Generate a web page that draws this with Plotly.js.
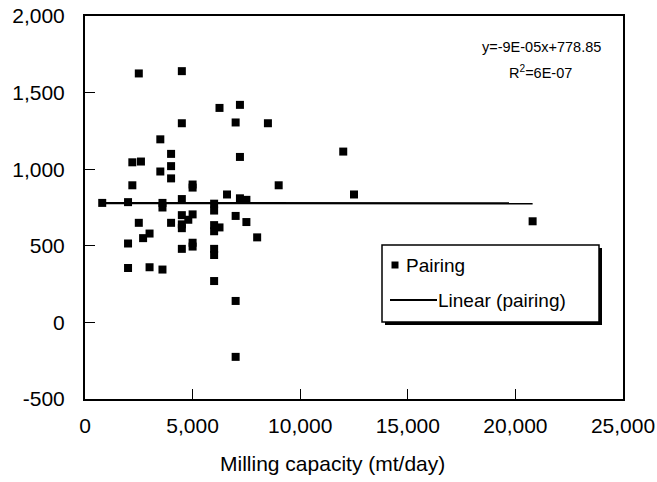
<!DOCTYPE html>
<html>
<head>
<meta charset="utf-8">
<script src="https://cdn.plot.ly/plotly-3.0.1.min.js"></script>
<style>html,body{margin:0;padding:0;background:#fff;}#chart{width:657px;height:482px;}</style>
</head>
<body>
<div id="chart"></div>
<script>
// Milling capacity (mt/day)
const capacity = [800, 2000, 2000, 2000, 2200, 2200, 2500, 2500, 2600, 2700,
  3000, 3000, 3500, 3500, 3600, 3600, 3600, 4000, 4000, 4000,
  4000, 4500, 4500, 4500, 4500, 4500, 4500, 4500, 4800, 5000,
  5000, 5000, 5000, 5000, 6000, 6000, 6000, 6000, 6000, 6000,
  6000, 6250, 6250, 6600, 7000, 7000, 7000, 7000, 7200, 7200,
  7200, 7500, 7500, 8000, 8500, 9000, 12000, 12500, 20800];
// Pairing values
const pairing = [780, 785, 515, 355, 1045, 895, 1625, 650, 1050, 550,
  580, 360, 1195, 985, 780, 750, 345, 1100, 1020, 940,
  650, 1640, 1300, 805, 700, 640, 615, 480, 670, 900,
  880, 705, 520, 495, 775, 730, 635, 595, 480, 440,
  270, 1400, 620, 835, 1305, 695, 140, -225, 1420, 1080,
  810, 800, 655, 555, 1300, 895, 1115, 835, 660];
// Linear trend (from the displayed equation)
const trendSlope = -9e-5;
const trendIntercept = 778.85;
const trendX = [Math.min(...capacity), Math.max(...capacity)];
const trendY = trendX.map(x => trendSlope * x + trendIntercept);

const xTickVals = [0, 5000, 10000, 15000, 20000, 25000];
const xTickText = ["0", "5,000", "10,000", "15,000", "20,000", "25,000"];
const yTickVals = [-500, 0, 500, 1000, 1500, 2000];
const yTickText = ["-500", "0", "500", "1,000", "1,500", "2,000"];

const eqText = "y=-9E-05x+778.85";
const r2Text = "R<sup>2</sup>=6E-07";
const legendNames = ["Pairing", "Linear (pairing)"];
const xTitle = "Milling capacity (mt/day)";

const W = 657, H = 482;
const L = 85, R = 623, T = 16, B = 399;
const px = v => (v - L) / (R - L);
const py = v => (B - v) / (B - T);

const FONT = "Liberation Sans, Arial, sans-serif";

const traces = [
  {
    type: "scatter", mode: "markers", name: legendNames[0],
    x: capacity, y: pairing,
    marker: {symbol: "square", size: 8, color: "#000"},
    showlegend: false, hoverinfo: "x+y"
  },
  {
    type: "scatter", mode: "lines", name: legendNames[1],
    x: trendX, y: trendY,
    line: {color: "#000", width: 2.2},
    showlegend: false
  }
];

const layout = {
  width: W, height: H,
  margin: {l: L, r: W - R, t: T, b: H - B, pad: 0},
  paper_bgcolor: "#fff", plot_bgcolor: "#fff",
  font: {family: FONT, color: "#000", size: 21},
  showlegend: false,
  xaxis: {
    range: [0, 25000], tickvals: xTickVals, ticktext: xTickText,
    ticks: "inside", ticklen: 10, tickwidth: 1, tickcolor: "#000",
    showline: true, linecolor: "#000", linewidth: 2, mirror: true,
    showgrid: false, zeroline: false,
    tickfont: {size: 21, family: FONT},
    ticklabelstandoff: 7
  },
  yaxis: {
    range: [-500, 2000], tickvals: yTickVals, ticktext: yTickText,
    ticks: "inside", ticklen: 10, tickwidth: 1, tickcolor: "#000",
    showline: true, linecolor: "#000", linewidth: 2, mirror: true,
    showgrid: false, zeroline: false,
    tickfont: {size: 21, family: FONT},
    ticklabelstandoff: 14
  },
  annotations: [
    {xref: "paper", yref: "paper", x: px(332), y: py(463), text: xTitle,
     showarrow: false, xanchor: "center", yanchor: "middle", font: {size: 21, family: FONT}},
    {xref: "paper", yref: "paper", x: px(541), y: py(47), text: eqText,
     showarrow: false, xanchor: "center", yanchor: "middle", font: {size: 14.5, family: FONT}},
    {xref: "paper", yref: "paper", x: px(540), y: py(72), text: r2Text,
     showarrow: false, xanchor: "center", yanchor: "middle", font: {size: 14.5, family: FONT}},
    {xref: "paper", yref: "paper", x: px(404), y: py(265), text: legendNames[0],
     showarrow: false, xanchor: "left", yanchor: "middle", font: {size: 19, family: FONT}},
    {xref: "paper", yref: "paper", x: px(436), y: py(300), text: legendNames[1],
     showarrow: false, xanchor: "left", yanchor: "middle", font: {size: 19, family: FONT}}
  ],
  shapes: [
    {type: "rect", xref: "paper", yref: "paper", layer: "above",
     x0: px(385), x1: px(602), y0: py(248), y1: py(325),
     fillcolor: "#000", line: {width: 0}},
    {type: "rect", xref: "paper", yref: "paper", layer: "above",
     x0: px(382), x1: px(599), y0: py(245), y1: py(322),
     fillcolor: "#fff", line: {color: "#000", width: 1.5}},
    {type: "rect", xref: "paper", yref: "paper", layer: "above",
     x0: px(391.5), x1: px(398.5), y0: py(261.5), y1: py(268.5),
     fillcolor: "#000", line: {width: 0}},
    {type: "line", xref: "paper", yref: "paper", layer: "above",
     x0: px(390), x1: px(437), y0: py(300), y1: py(300),
     line: {color: "#000", width: 2}}
  ]
};

Plotly.newPlot("chart", traces, layout, {displayModeBar: false, staticPlot: true});
</script>
</body>
</html>
